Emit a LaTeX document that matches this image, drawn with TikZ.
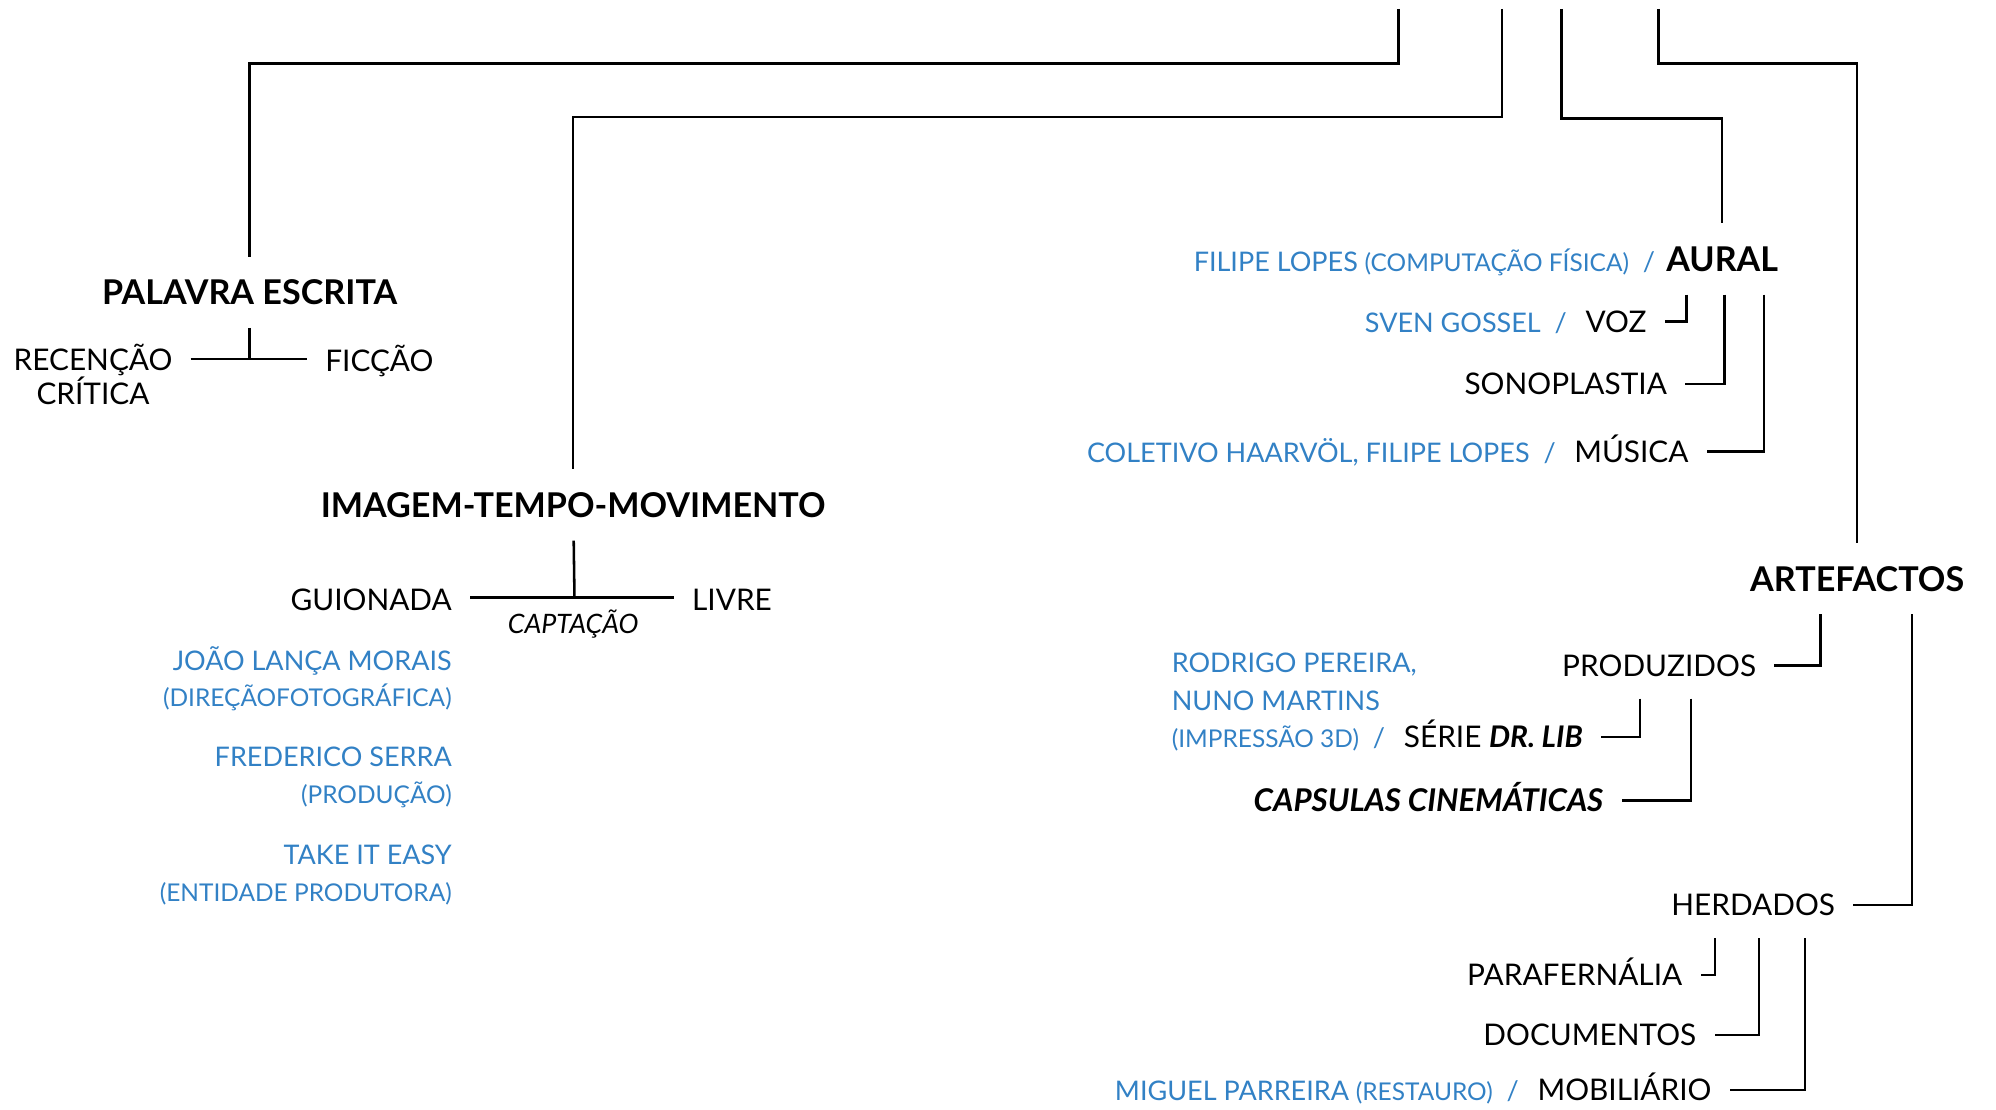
\documentclass[tikz,border=0pt]{standalone}
\usepackage{fontspec}
\setmainfont{Lato}
\usepackage{xcolor}
\usepackage{tikz}

\definecolor{credit}{RGB}{50,129,197}
\newcommand{\role}[1]{{\fontsize{9.6}{11}\selectfont(#1)}}

\tikzset{
  branch/.style={line width=1pt},
  head/.style={font=\fontsize{13.4}{16}\selectfont\bfseries, inner xsep=4pt, inner ysep=9pt, text height=9.6pt, text depth=0pt},
  leaf/.style={font=\fontsize{11.7}{14}\selectfont, inner xsep=7pt, inner ysep=8.5pt, text height=8.4pt, text depth=0pt},
  who/.style={font=\fontsize{10.6}{13}\selectfont, text=credit, inner sep=0pt},
  whorole/.style={font=\fontsize{9.6}{11}\selectfont, text=credit, inner sep=0pt},
}

\begin{document}
\begin{tikzpicture}[x=0.5pt, y=-0.5pt]
\useasboundingbox (0,0) rectangle (1567,871);

\node[head, anchor=base] (palavra) at (196,239) {PALAVRA ESCRITA};
\node[head, anchor=base] (imagem) at (450,406) {IMAGEM-TEMPO-MOVIMENTO};
\node[head, anchor=base] (aural) at (1352,213) {AURAL};
\node[head, anchor=base] (artefactos) at (1458,464) {ARTEFACTOS};

\coordinate (inA) at (1098,7);
\coordinate (inB) at (1179,7);
\coordinate (inC) at (1226,7);
\coordinate (inD) at (1302,7);
\draw[branch] (inA) -- (1098,50) -| (palavra);
\draw[branch] (inB) -- (1179,92) -| (imagem);
\draw[branch] (inC) -- (1226,93) -| (aural);
\draw[branch] (inD) -- (1302,50) -| (artefactos);

% palavra escrita
\node[font=\fontsize{11.7}{13}\selectfont, align=center, inner xsep=7pt] (recencao) at (73,294) {RECENÇÃO\\CRÍTICA};
\node[leaf, anchor=base west] (ficcao) at (241,292) {FICÇÃO};
\coordinate (pj) at (196,282);
\draw[branch] (palavra) -- (pj);
\draw[branch] (recencao.east |- pj) -- (ficcao.west |- pj);

% imagem-tempo-movimento
\node[leaf, anchor=base east] (guionada) at (369,479) {GUIONADA};
\node[leaf, anchor=base west] (livre) at (529,479) {LIVRE};
\coordinate (ij) at (451,469);
\draw[branch] (imagem) -- (ij);
\draw[branch] (guionada.east |- ij) -- (livre.west |- ij);
\node[font=\fontsize{10.5}{12}\selectfont\itshape, anchor=base] (captacao) at (450,497) {CAPTAÇÃO};
\node[who, anchor=base east] (joao) at (355,526) {JOÃO LANÇA MORAIS};
\node[whorole, anchor=base east] (joaorole) at (355,555) {(DIREÇÃOFOTOGRÁFICA)};
\node[who, anchor=base east] (frederico) at (355,602) {FREDERICO SERRA};
\node[whorole, anchor=base east] (fredrole) at (355,631) {(PRODUÇÃO)};
\node[who, anchor=base east] (take) at (355,679) {TAKE IT EASY};
\node[whorole, anchor=base east] (takerole) at (355,708) {(ENTIDADE PRODUTORA)};

% aural
\node[leaf, anchor=base east] (voz) at (1307,261) {VOZ};
\node[leaf, anchor=base east] (sono) at (1323,310) {SONOPLASTIA};
\node[leaf, anchor=base east] (musica) at (1340,363) {MÚSICA};
\draw[branch] ([xshift=-14pt]aural.south) |- (voz);
\draw[branch] ([xshift=1pt]aural.south) |- (sono);
\draw[branch] ([xshift=16.5pt]aural.south) |- (musica);
\node[who, anchor=base east] (filipe) at (aural.base west) {FILIPE LOPES \role{COMPUTAÇÃO FÍSICA}\ \ /};
\node[who, anchor=base east] (sven) at (voz.base west) {SVEN GOSSEL\ \ /};
\node[who, anchor=base east] (coletivo) at (musica.base west) {COLETIVO HAARVÖL, FILIPE LOPES\ \ /};

% artefactos
\node[leaf, anchor=base east] (produzidos) at (1393,531) {PRODUZIDOS};
\node[leaf, anchor=base east] (herdados) at (1455,719) {HERDADOS};
\draw[branch] ([xshift=-14.5pt]artefactos.south) |- (produzidos);
\draw[branch] ([xshift=21.5pt]artefactos.south) |- (herdados);

\node[leaf, anchor=base east] (serie) at (1257,587) {SÉRIE {\bfseries\itshape DR. LIB}};
\node[leaf, font=\fontsize{12.3}{14}\selectfont\bfseries\itshape, anchor=base east] (capsulas) at (1273,637) {CAPSULAS CINEMÁTICAS};
\draw[branch] ([xshift=-7.5pt]produzidos.south) |- (serie);
\draw[branch] ([xshift=12.5pt]produzidos.south) |- (capsulas);
\node[who, anchor=base east] (impressao) at (serie.base west) {\role{IMPRESSÃO 3D}\ \ /};
\node[who, anchor=base west] (nuno) at ([yshift=14.5pt]impressao.base west) {NUNO MARTINS};
\node[who, anchor=base west] (rodrigo) at ([yshift=29.5pt]impressao.base west) {RODRIGO PEREIRA,};

\node[leaf, anchor=base east] (para) at (1335,774) {PARAFERNÁLIA};
\node[leaf, anchor=base east] (docs) at (1346,821) {DOCUMENTOS};
\node[leaf, anchor=base east] (mobil) at (1358,864) {MOBILIÁRIO};
\draw[branch] ([xshift=-15pt]herdados.south) |- (para);
\draw[branch] ([xshift=2.25pt]herdados.south) |- (docs);
\draw[branch] ([xshift=20.25pt]herdados.south) |- (mobil);
\node[who, anchor=base east] (miguel) at (mobil.base west) {MIGUEL PARREIRA \role{RESTAURO}\ \ /};
\end{tikzpicture}
\end{document}
